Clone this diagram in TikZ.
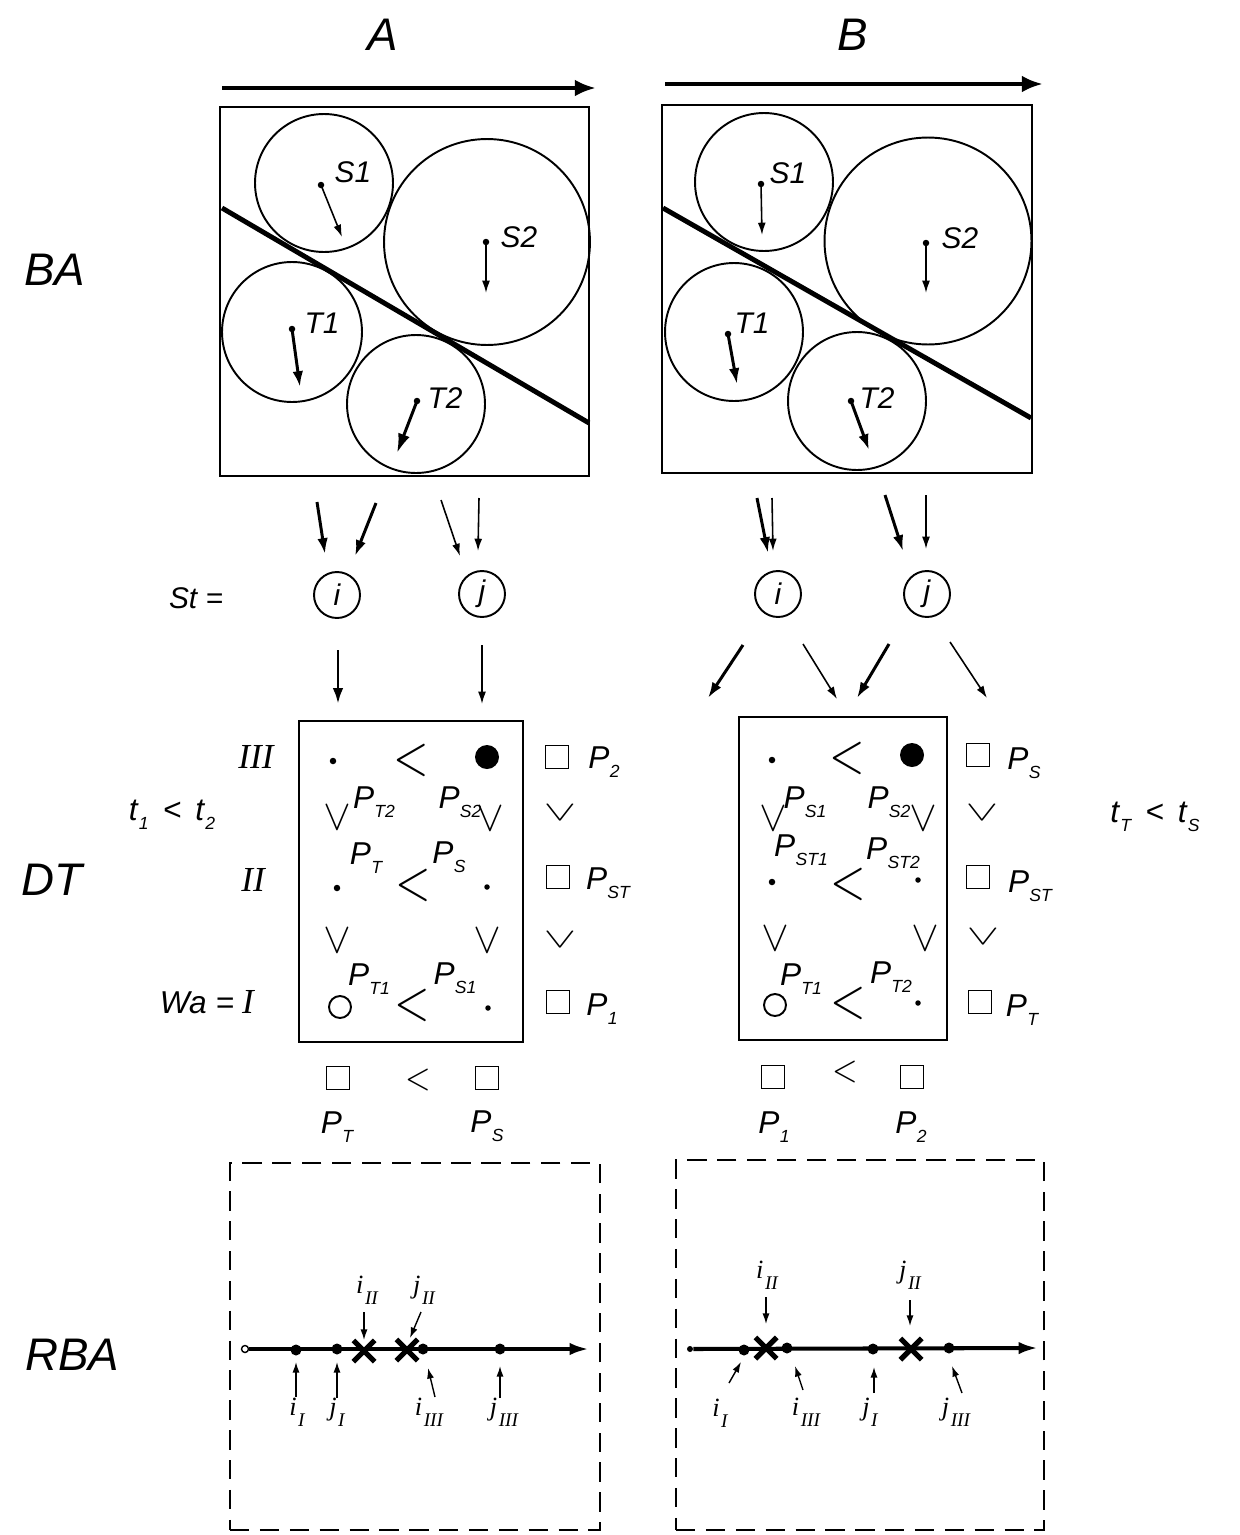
\documentclass[tikz,border=0pt]{standalone}
\usepackage{graphicx}
\usepackage{fontspec}
\setmainfont{Liberation Sans}
\newfontfamily\serif{Liberation Serif}
\usetikzlibrary{arrows.meta,shapes.misc}
\newcommand\fs[1]{\fontsize{#1}{#1}\selectfont}
\newcommand\Pl[1]{P\kern0.01em\raisebox{-0.28em}{\fs{10}#1}}
\newcommand\tsub[2]{#1\kern0.04em\raisebox{-0.3em}{\fs{10}#2}}
\newcommand\rs[2]{#1\kern0.06em\raisebox{-0.4em}{\fs{11}\serif\itshape #2}}
\newcommand\lts[2]{\scalebox{#1}[#2]{$<$}}
\newcommand\vin{\rotatebox{90}{\lts{2.5}{2.24}}}
\newcommand\vout{\rotatebox{90}{\lts{1.6}{2.65}}}
\begin{document}
\begin{tikzpicture}[x=0.02cm,y=-0.02cm,
 boxline/.style={draw, line width=1.4pt, inner sep=0},
 circ/.style={circle, draw, line width=1.1pt, inner sep=0},
 dot/.style={circle, fill, inner sep=0, minimum size=0.13cm},
 bigdot/.style={circle, fill, inner sep=0, minimum size=0.48cm},
 odot/.style={circle, draw, line width=1.1pt, inner sep=0, minimum size=0.44cm},
 lab/.style={inner sep=0, font=\fs{17}\itshape},
 head/.style={inner sep=0, font=\fs{26}\itshape},
 plab/.style={inner sep=0, font=\fs{18}\itshape},
 rlab/.style={inner sep=0, font=\fs{20}\serif\itshape},
 ilab/.style={inner sep=0, font=\fs{15}\serif\itshape},
 sym/.style={inner sep=0},
 topar/.style={line width=2.8pt, -{Latex[length=12pt,width=9.5pt]}},
 thinar/.style={line width=0.9pt, -{Latex[length=7pt,width=4.5pt]}},
 thickar/.style={line width=1.7pt, -{Latex[length=9pt,width=6pt]}},
 sq/.style={draw, line width=1.1pt, minimum size=0.46cm, inner sep=0},
 xmark/.style={cross out, draw, line width=3pt, minimum size=0.32cm, inner sep=0},
 rdot/.style={circle, fill, inner sep=0, minimum size=0.22cm},
 rar/.style={line width=0.8pt, -{Latex[length=6pt,width=4pt]}},
 rline/.style={line width=2.3pt, -{Latex[length=11pt,width=7pt]}},
 dbox/.style={draw, dash pattern=on 11pt off 6pt, line width=1.4pt, inner sep=0},
 diag/.style={line width=2.8pt}
]
\useasboundingbox (0,0) rectangle (1240,1535);

% ---------- headings ----------
\node[head] (hA) at (383,35) {A};
\node[head] (hB) at (853,35) {B};
\node[head] (hBA) at (55,270) {BA};
\node[head] (hDT) at (52,880) {DT};
\node[head] (hRBA) at (72,1355) {RBA};

\coordinate (tA1) at (222,88); \coordinate (tA2) at (596,88);
\draw[topar] (tA1) -- (tA2);
\coordinate (tB1) at (665,84); \coordinate (tB2) at (1043,84);
\draw[topar] (tB1) -- (tB2);

% ---------- BA, column A ----------
\node[boxline, minimum width=7.38cm, minimum height=7.38cm] (boxA) at (404.5,291.5) {};
\node[circ, minimum size=2.76cm] (AS1c) at (324,183) {};
\node[circ, minimum size=4.12cm] (AS2c) at (487,242) {};
\node[circ, minimum size=2.8cm] (AT1c) at (292,332) {};
\node[circ, minimum size=2.76cm] (AT2c) at (416,404) {};
\coordinate (Ad1) at (222,208); \coordinate (Ad2) at (589,423);
\draw[diag] (Ad1) -- (Ad2);
\node[dot] (AS1d) at (321,185) {}; \coordinate (AS1e) at (342,237);
\node[dot] (AS2d) at (486,242) {}; \coordinate (AS2e) at (486,293);
\node[dot] (AT1d) at (292,329) {}; \coordinate (AT1e) at (300,387);
\node[dot] (AT2d) at (417,401) {}; \coordinate (AT2e) at (397,453);
\draw[thinar] (AS1d.center) -- (AS1e);
\draw[thinar] (AS2d.center) -- (AS2e);
\draw[thickar] (AT1d.center) -- (AT1e);
\draw[thickar, -{Latex[length=11pt,width=7pt]}] (AT2d.center) -- (AT2e);
\node[lab] (AS1l) at (353,172) {S1};
\node[lab] (AS2l) at (519,237) {S2};
\node[lab] (AT1l) at (322,323) {T1};
\node[lab] (AT2l) at (445,398) {T2};

% ---------- BA, column B ----------
\node[boxline, minimum width=7.4cm, minimum height=7.36cm] (boxB) at (847,289) {};
\node[circ, minimum size=2.76cm] (BS1c) at (764,182) {};
\node[circ, minimum size=4.14cm] (BS2c) at (928,241) {};
\node[circ, minimum size=2.76cm] (BT1c) at (734,332) {};
\node[circ, minimum size=2.76cm] (BT2c) at (857,401) {};
\coordinate (Bd1) at (663,208); \coordinate (Bd2) at (1031,418);
\draw[diag] (Bd1) -- (Bd2);
\node[dot] (BS1d) at (761,184) {}; \coordinate (BS1e) at (762,235);
\node[dot] (BS2d) at (926,243) {}; \coordinate (BS2e) at (926,293);
\node[dot] (BT1d) at (728,334) {}; \coordinate (BT1e) at (737,384);
\node[dot] (BT2d) at (851,401) {}; \coordinate (BT2e) at (869,450);
\draw[thinar] (BS1d.center) -- (BS1e);
\draw[thinar] (BS2d.center) -- (BS2e);
\draw[thickar] (BT1d.center) -- (BT1e);
\draw[thickar] (BT2d.center) -- (BT2e);
\node[lab] (BS1l) at (788,173) {S1};
\node[lab] (BS2l) at (960,238) {S2};
\node[lab] (BT1l) at (752,323) {T1};
\node[lab] (BT2l) at (877,398) {T2};

% ---------- St ----------
\node[lab] (St) at (196,598) {St =};
\node[circ, minimum size=0.92cm, font=\fs{17}\itshape] (Ai) at (337,595) {i};
\node[circ, minimum size=0.92cm, font=\fs{17}\itshape] (Aj) at (482,594) {j};
\node[circ, minimum size=0.92cm, font=\fs{17}\itshape] (Bi) at (778,594) {i};
\node[circ, minimum size=0.92cm, font=\fs{17}\itshape] (Bj) at (927,594) {j};

\coordinate (a1s) at (317,502); \coordinate (a1e) at (325,554);
\coordinate (a2s) at (376,503); \coordinate (a2e) at (355,556);
\coordinate (a3s) at (441,500); \coordinate (a3e) at (460,556);
\coordinate (a4s) at (479,498); \coordinate (a4e) at (478,551);
\draw[thickar] (a1s) -- (a1e);
\draw[thickar] (a2s) -- (a2e);
\draw[thinar] (a3s) -- (a3e);
\draw[thinar] (a4s) -- (a4e);
\coordinate (b1s) at (757,498); \coordinate (b1e) at (768,553);
\coordinate (b2s) at (772,498); \coordinate (b2e) at (773,551);
\coordinate (b3s) at (885,495); \coordinate (b3e) at (903,551);
\coordinate (b4s) at (926,495); \coordinate (b4e) at (926,549);
\draw[thickar] (b1s) -- (b1e);
\draw[thinar] (b2s) -- (b2e);
\draw[thickar] (b3s) -- (b3e);
\draw[thinar] (b4s) -- (b4e);

\coordinate (ai1) at (338,650); \coordinate (ai2) at (338,704);
\coordinate (aj1) at (482,645); \coordinate (aj2) at (482,704);
\draw[thickar] (ai1) -- (ai2);
\draw[thinar] (aj1) -- (aj2);
\coordinate (bi1) at (743,645); \coordinate (bi2) at (708,698);
\coordinate (bi3) at (803,644); \coordinate (bi4) at (837,699);
\coordinate (bj1) at (889,644); \coordinate (bj2) at (857,698);
\coordinate (bj3) at (950,642); \coordinate (bj4) at (987,698);
\draw[thickar] (bi1) -- (bi2);
\draw[thinar] (bi3) -- (bi4);
\draw[thickar] (bj1) -- (bj2);
\draw[thinar] (bj3) -- (bj4);

% ---------- DT, column A ----------
\node[boxline, minimum width=4.48cm, minimum height=6.42cm] (dtA) at (411,881.5) {};
\node[rlab] (AIII) at (256,757) {III};
\node[rlab] (AII) at (253,880) {II};
\node[lab, font=\fs{18}\itshape] (AWa) at (197,1003) {Wa =};
\node[rlab] (AI) at (248,1002) {I};
\node[lab, font=\fs{18}\itshape] (At12) at (172,815) {\tsub{t}{1} \,<\, \tsub{t}{2}};

\node[dot] (A3a) at (333,761) {};
\node[sym] (A3lt) at (411,760) {\lts{2.6}{3.2}};
\node[bigdot] (A3b) at (487,757) {};
\node[sq] (A3s) at (557,757) {};
\node[plab] (A3p) at (604,762) {\Pl{2}};

\node[sym] (AVa1) at (337,817) {\vin};
\node[plab] (APT2) at (374,802) {\Pl{T2}};
\node[plab] (APS2) at (460,802) {\Pl{S2}};
\node[sym] (AVb1) at (490,818) {\vin};
\node[sym] (AVo1) at (560,813) {\vout};

\node[dot] (A2a) at (337,888) {};
\node[plab] (APT) at (366,858) {\Pl{T}};
\node[sym] (A2lt) at (413,885) {\lts{2.6}{3.2}};
\node[plab] (APS) at (449,857) {\Pl{S}};
\node[dot, minimum size=0.11cm] (A2b) at (487,887) {};
\node[sq] (A2s) at (558,877) {};
\node[plab] (A2p) at (608,883) {\Pl{ST}};

\node[sym] (AVa2) at (337,940) {\vin};
\node[sym] (AVb2) at (487,940) {\vin};
\node[sym] (AVo2) at (560,940) {\vout};

\node[odot] (A1a) at (340,1007) {};
\node[plab] (APT1) at (369,979) {\Pl{T1}};
\node[sym] (A1lt) at (412,1005) {\lts{2.6}{3.2}};
\node[plab] (APS1) at (455,978) {\Pl{S1}};
\node[dot, minimum size=0.11cm] (A1b) at (488,1008) {};
\node[sq] (A1s) at (558,1002) {};
\node[plab] (A1p) at (602,1009) {\Pl{1}};

\node[sq] (A0a) at (338,1078) {};
\node[sym] (A0lt) at (418,1080) {\lts{1.87}{2.16}};
\node[sq] (A0b) at (487,1078) {};
\node[plab] (A0pa) at (337,1127) {\Pl{T}};
\node[plab] (A0pb) at (487,1126) {\Pl{S}};

% ---------- DT, column B ----------
\node[boxline, minimum width=4.16cm, minimum height=6.46cm] (dtB) at (843,878.5) {};
\node[lab, font=\fs{18}\itshape] (BtTS) at (1155,817) {\tsub{t}{T} \,<\, \tsub{t}{S}};

\node[dot] (B3a) at (772,760) {};
\node[sym] (B3lt) at (847,758) {\lts{2.6}{3.2}};
\node[bigdot] (B3b) at (912,755) {};
\node[sq] (B3s) at (978,755) {};
\node[plab] (B3p) at (1024,763) {\Pl{S}};

\node[sym] (BVa1) at (773,818) {\vin};
\node[plab] (BPS1) at (805,802) {\Pl{S1}};
\node[plab] (BPS2) at (889,802) {\Pl{S2}};
\node[sym] (BVb1) at (923,818) {\vin};
\node[sym] (BVo1) at (982,813) {\vout};

\node[dot] (B2a) at (772,882) {};
\node[plab] (BPST1) at (801,850) {\Pl{ST1}};
\node[sym] (B2lt) at (848,884) {\lts{2.6}{3.2}};
\node[plab] (BPST2) at (893,853) {\Pl{ST2}};
\node[dot, minimum size=0.11cm] (B2b) at (918,880) {};
\node[sq] (B2s) at (978,877) {};
\node[plab] (B2p) at (1030,886) {\Pl{ST}};

\node[sym] (BVa2) at (775,938) {\vin};
\node[sym] (BVb2) at (925,938) {\vin};
\node[sym] (BVo2) at (983,937) {\vout};

\node[odot] (B1a) at (775,1005) {};
\node[plab] (BPT1) at (801,979) {\Pl{T1}};
\node[sym] (B1lt) at (848,1003) {\lts{2.6}{3.2}};
\node[plab] (BPT2) at (891,977) {\Pl{T2}};
\node[dot, minimum size=0.11cm] (B1b) at (918,1003) {};
\node[sq] (B1s) at (980,1002) {};
\node[plab] (B1p) at (1022,1010) {\Pl{T}};

\node[sq] (B0a) at (773,1077) {};
\node[sym] (B0lt) at (845,1072) {\lts{1.87}{2.16}};
\node[sq] (B0b) at (912,1077) {};
\node[plab] (B0pa) at (774,1127) {\Pl{1}};
\node[plab] (B0pb) at (911,1127) {\Pl{2}};

% ---------- RBA, column A ----------
\node[dbox, minimum width=7.4cm, minimum height=7.34cm] (rbA) at (415,1346.5) {};
\node[circle, draw, line width=0.8pt, inner sep=0, minimum size=0.14cm] (rA0) at (245,1349) {};
\coordinate (rAend) at (589,1349);
\draw[rline] (rA0) -- (rAend);
\node[rdot] (rAiI) at (296,1350) {};
\node[rdot] (rAjI) at (337,1349) {};
\node[xmark] (rAiII) at (364,1351) {};
\node[xmark] (rAjII) at (407,1350) {};
\node[rdot] (rAiIII) at (423,1349) {};
\node[rdot] (rAjIII) at (500,1349) {};

\node[ilab] (lAiII) at (367,1290) {\rs{i}{II}};
\node[ilab] (lAjII) at (424,1290) {\rs{j}{II}};
\node[ilab] (lAiI) at (297,1412) {\rs{i}{I}};
\node[ilab] (lAjI) at (337,1412) {\rs{j}{I}};
\node[ilab] (lAiIII) at (429,1412) {\rs{i}{III}};
\node[ilab] (lAjIII) at (504,1412) {\rs{j}{III}};
\coordinate (pA1s) at (364,1312); \coordinate (pA1e) at (364,1340);
\coordinate (pA2s) at (421,1312); \coordinate (pA2e) at (410,1338);
\coordinate (pA3s) at (296,1397); \coordinate (pA3e) at (296,1362);
\coordinate (pA4s) at (337,1398); \coordinate (pA4e) at (337,1362);
\coordinate (pA5s) at (435,1397); \coordinate (pA5e) at (428,1368);
\coordinate (pA6s) at (500,1398); \coordinate (pA6e) at (500,1366);
\foreach \k in {1,...,6} {\draw[rar] (pA\k s) -- (pA\k e);}

% ---------- RBA, column B ----------
\node[dbox, minimum width=7.36cm, minimum height=7.4cm] (rbB) at (860,1345) {};
\node[circle, fill, inner sep=0, minimum size=0.12cm] (rB0) at (690,1349) {};
\coordinate (rBend) at (1038,1348);
\draw[rline] (rB0) -- (rBend);
\node[rdot] (rBiI) at (744,1350) {};
\node[xmark] (rBiII) at (766,1348) {};
\node[rdot] (rBiIII) at (787,1348) {};
\node[rdot] (rBjI) at (873,1349) {};
\node[xmark] (rBjII) at (911,1349) {};
\node[rdot] (rBjIII) at (949,1348) {};

\node[ilab] (lBiII) at (767,1275) {\rs{i}{II}};
\node[ilab] (lBjII) at (910,1275) {\rs{j}{II}};
\node[ilab] (lBiI) at (720,1413) {\rs{i}{I}};
\node[ilab] (lBiIII) at (806,1412) {\rs{i}{III}};
\node[ilab] (lBjI) at (870,1412) {\rs{j}{I}};
\node[ilab] (lBjIII) at (956,1412) {\rs{j}{III}};
\coordinate (pB1s) at (766,1297); \coordinate (pB1e) at (766,1324);
\coordinate (pB2s) at (910,1300); \coordinate (pB2e) at (910,1326);
\coordinate (pB3s) at (729,1383); \coordinate (pB3e) at (741,1362);
\coordinate (pB4s) at (803,1390); \coordinate (pB4e) at (795,1366);
\coordinate (pB5s) at (874,1393); \coordinate (pB5e) at (874,1367);
\coordinate (pB6s) at (962,1393); \coordinate (pB6e) at (952,1366);
\foreach \k in {1,...,6} {\draw[rar] (pB\k s) -- (pB\k e);}
\end{tikzpicture}
\end{document}
